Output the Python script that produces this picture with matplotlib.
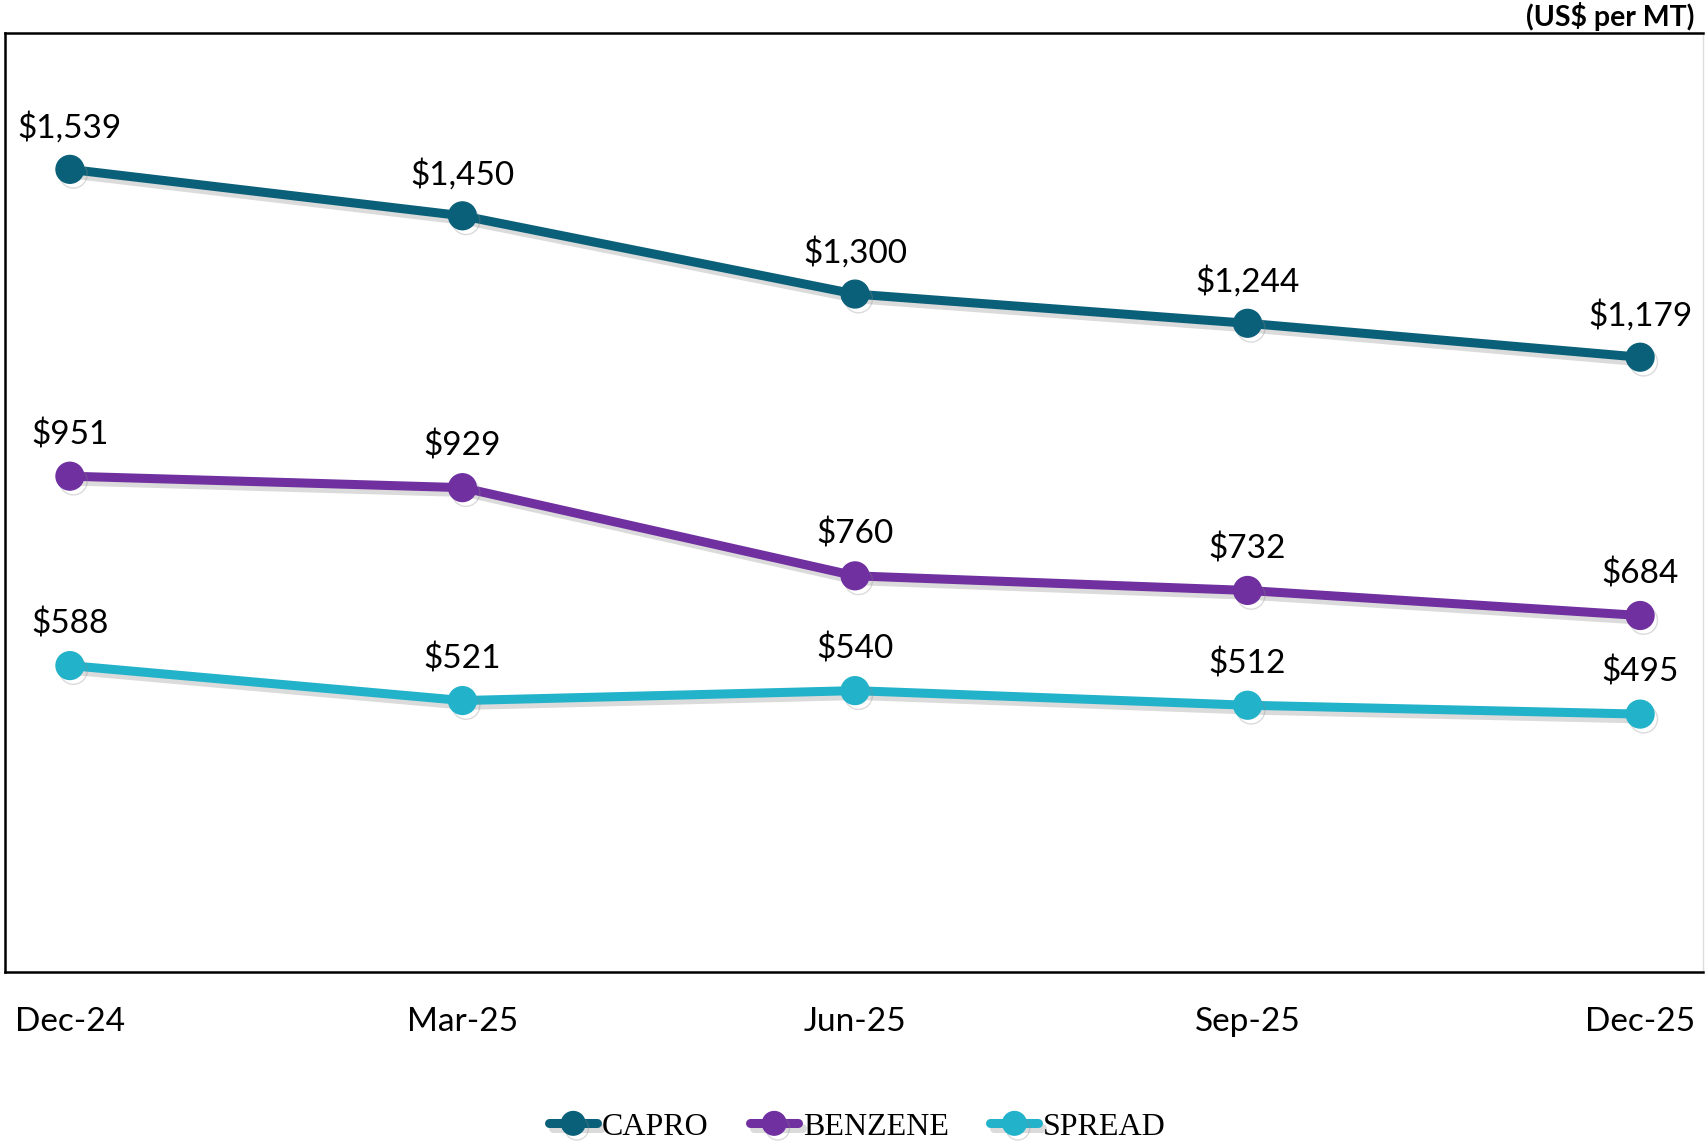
import matplotlib.pyplot as plt
import matplotlib.patheffects as pe

# quarterly prices, US$ per MT
quarters = ["Dec-24", "Mar-25", "Jun-25", "Sep-25", "Dec-25"]
capro = [1539, 1450, 1300, 1244, 1179]
benzene = [951, 929, 760, 732, 684]
spread = [588, 521, 540, 512, 495]

series = [
    ("CAPRO", capro, "#0B6079"),
    ("BENZENE", benzene, "#7030A0"),
    ("SPREAD", spread, "#22B2CA"),
]

plt.rcParams['font.family'] = ['Lato', 'DejaVu Sans']

fig = plt.figure(figsize=(17.05, 11.44), dpi=100)
ax = fig.add_axes([0.003, 0.150, 0.9958, 0.821])

x = list(range(len(quarters)))
shadow = [pe.SimpleLineShadow(offset=(2.5, -3.5), shadow_color="#888888", alpha=0.3),
          pe.Normal()]

for name, vals, col in series:
    ax.plot(x, vals, color=col, lw=6.5, marker="o", markersize=20,
            solid_capstyle="round", label=name, path_effects=shadow)
    for xi, v in zip(x, vals):
        ax.annotate(f"${v:,}", (xi, v), xytext=(0, 30), textcoords="offset points",
                    ha="center", va="center", fontsize=24, color="black")

ax.set_xlim(-0.165, 4.16)
ax.set_ylim(0, 1800)
ax.set_yticks([])
ax.set_xticks(x)
ax.set_xticklabels(quarters, fontsize=24)
ax.tick_params(axis="x", length=0, pad=25)

for s in ["top", "left", "bottom"]:
    ax.spines[s].set_color("black")
    ax.spines[s].set_linewidth(1.8)
ax.spines["right"].set_color("#dddddd")
ax.spines["right"].set_linewidth(1)

fig.text(0.994, 0.986, "(US$ per MT)", ha="right", va="center",
         fontsize=20.5, fontweight="bold")

fig.legend(loc="center", bbox_to_anchor=(0.503, 0.015), ncol=3, frameon=False,
           prop={"family": "Liberation Serif", "size": 23},
           handlelength=1.5, handletextpad=0.15, columnspacing=1.3, markerscale=0.85)

fig.savefig("out.png", dpi=100)
